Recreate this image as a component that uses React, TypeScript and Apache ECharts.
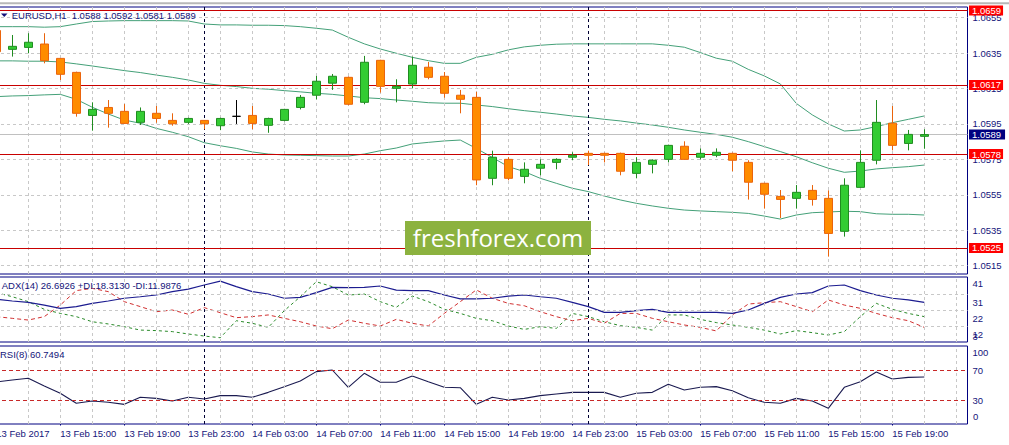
import React, { useEffect, useRef } from "react";
import * as echarts from "echarts";

const SYMBOL = "EURUSD,H1";

const OPEN = [
  1.06477, 1.06371, 1.06382, 1.06401, 1.0632, 1.06241, 1.05998, 1.06043, 1.06021, 1.05959,
  1.0601, 1.0597, 1.05959, 1.0597, 1.0594, 1.05993, 1.05998, 1.05942, 1.0597, 1.06043,
  1.06112, 1.0618, 1.06213, 1.06072, 1.06309, 1.06151, 1.06175, 1.0627, 1.06219, 1.06112,
  1.061, 1.05643, 1.0575, 1.05654, 1.057, 1.05733, 1.05762, 1.05784, 1.05784, 1.05784,
  1.05671, 1.05722, 1.0575, 1.05824, 1.05762, 1.05773, 1.05784, 1.05733, 1.05615, 1.05541,
  1.0553, 1.05575, 1.0553, 1.05344, 1.05592, 1.05745, 1.05954, 1.0584, 1.0588,
];
const HIGH = [
  1.06495, 1.06452, 1.06462, 1.06462, 1.06322, 1.06245, 1.06072, 1.06085, 1.06062, 1.06043,
  1.06051, 1.0601, 1.05985, 1.05972, 1.05985, 1.06085, 1.06051, 1.05985, 1.06035, 1.06113,
  1.06221, 1.06232, 1.06218, 1.06334, 1.06312, 1.06202, 1.0633, 1.063, 1.06243, 1.06142,
  1.06131, 1.05799, 1.05762, 1.05733, 1.0575, 1.05756, 1.0579, 1.05799, 1.05788, 1.05788,
  1.05762, 1.0575, 1.05833, 1.05852, 1.05812, 1.05812, 1.05788, 1.05745, 1.05618, 1.05577,
  1.05605, 1.05605, 1.05575, 1.05643, 1.05801, 1.06085, 1.06051, 1.05916, 1.0592,
];
const LOW = [
  1.06345, 1.0633, 1.06349, 1.06292, 1.06198, 1.05991, 1.05912, 1.05929, 1.0595, 1.05944,
  1.05957, 1.0594, 1.0595, 1.0592, 1.05915, 1.0595, 1.0592, 1.059, 1.05965, 1.06032,
  1.06089, 1.06142, 1.06055, 1.06061, 1.06127, 1.06072, 1.06151, 1.06202, 1.06098, 1.0601,
  1.05604, 1.05604, 1.05632, 1.05615, 1.0566, 1.05694, 1.05745, 1.05718, 1.05733, 1.0566,
  1.05643, 1.05671, 1.05733, 1.05747, 1.0575, 1.05762, 1.05683, 1.05523, 1.05472, 1.05419,
  1.05472, 1.05489, 1.05201, 1.05314, 1.0559, 1.05722, 1.05801, 1.05801, 1.0581,
];
const CLOSE = [
  1.06358, 1.06388, 1.06411, 1.06307, 1.0623, 1.0601, 1.06032, 1.0601, 1.05953, 1.06021,
  1.05981, 1.05951, 1.05981, 1.05951, 1.05981, 1.05993, 1.05953, 1.05981, 1.06032, 1.061,
  1.06191, 1.06219, 1.06061, 1.06298, 1.06162, 1.06162, 1.06281, 1.06213, 1.06123, 1.06089,
  1.05634, 1.05762, 1.05643, 1.05694, 1.05722, 1.0575, 1.05773, 1.05773, 1.05773, 1.05683,
  1.05733, 1.05745, 1.05829, 1.0575, 1.05784, 1.0579, 1.05745, 1.05621, 1.05553, 1.05524,
  1.05564, 1.05524, 1.05332, 1.05604, 1.05733, 1.05959, 1.05829, 1.05891, 1.0589,
];

const BB_UPPER = [
  1.06499, 1.06499, 1.06499, 1.06496, 1.06499, 1.06514, 1.06528, 1.06531, 1.06533, 1.06533,
  1.06533, 1.06533, 1.06531, 1.06514, 1.06509, 1.06509, 1.06507, 1.06507, 1.06505, 1.06499,
  1.0649, 1.0648, 1.06439, 1.06402, 1.06373, 1.06349, 1.06326, 1.06307, 1.06292, 1.06292,
  1.06326, 1.06343, 1.06368, 1.06385, 1.06394, 1.064, 1.06402, 1.06402, 1.06402, 1.06402,
  1.06402, 1.06402, 1.06394, 1.06383, 1.06353, 1.06321, 1.06304, 1.06258, 1.06221, 1.06176,
  1.06066, 1.06001, 1.0595, 1.0591, 1.05916, 1.05935, 1.05957, 1.05976, 1.05995,
];
const BB_MIDDLE = [
  1.06306, 1.06306, 1.06304, 1.06304, 1.063, 1.06289, 1.06277, 1.06264, 1.06251, 1.0624,
  1.06226, 1.06213, 1.06198, 1.06179, 1.06168, 1.06161, 1.06151, 1.06146, 1.06138, 1.06131,
  1.06123, 1.06117, 1.06108, 1.06098, 1.06093, 1.06085, 1.06078, 1.0607, 1.06067, 1.06067,
  1.06057, 1.06048, 1.06036, 1.06025, 1.06016, 1.06006, 1.05995, 1.05987, 1.05976, 1.05967,
  1.05955, 1.05944, 1.05931, 1.05916, 1.05903, 1.05891, 1.05875, 1.0585, 1.05822, 1.05794,
  1.05765, 1.05731, 1.057, 1.05677, 1.05684, 1.05696, 1.05703, 1.05709, 1.05718,
];
const BB_LOWER = [
  1.06104, 1.06108, 1.0611, 1.06114, 1.06117, 1.06089, 1.06044, 1.06006, 1.05972, 1.05954,
  1.05925, 1.05903, 1.05878, 1.05844, 1.05827, 1.05812, 1.05792, 1.0578, 1.05775, 1.05773,
  1.05771, 1.05769, 1.05769, 1.0578, 1.05799, 1.05814, 1.05837, 1.05846, 1.05854, 1.05859,
  1.05812, 1.05761, 1.05709, 1.05681, 1.05643, 1.05615, 1.05587, 1.05568, 1.05543, 1.05521,
  1.05502, 1.05487, 1.05474, 1.05464, 1.05459, 1.05455, 1.05451, 1.05445, 1.0543, 1.05413,
  1.05436, 1.05449, 1.05453, 1.05457, 1.05455, 1.05443, 1.0544, 1.0544, 1.05436,
];

const ADX = [
  28.5, 27.5, 26.7, 25.1, 23.2, 24.2, 26.1, 27.5, 29.1, 30.0,
  31.0, 33.0, 34.5, 36.9, 39.2, 35.9, 33.0, 31.6, 29.1, 29.6,
  32.4, 35.5, 35.3, 35.5, 36.3, 33.9, 33.6, 33.6, 31.0, 28.7,
  28.7, 29.1, 30.4, 31.0, 30.0, 29.1, 26.7, 24.2, 20.8, 20.8,
  21.8, 22.6, 20.8, 20.8, 20.8, 20.8, 20.2, 22.2, 26.1, 29.6,
  31.6, 32.4, 36.3, 36.9, 33.6, 31.0, 29.1, 28.1, 26.6926,
];
const PLUS_DI = [
  32.4, 30.0, 27.1, 22.6, 20.2, 18.3, 15.3, 14.0, 12.4, 10.4,
  10.1, 9.5, 8.1, 6.9, 5.9, 15.9, 14.4, 12.0, 21.8, 30.0,
  38.8, 35.9, 31.0, 31.6, 27.1, 23.8, 30.4, 27.1, 22.6, 20.2,
  17.3, 15.9, 12.8, 10.8, 12.4, 11.4, 20.2, 18.3, 15.3, 13.0,
  12.0, 10.4, 19.3, 19.3, 16.7, 14.8, 13.4, 12.0, 10.4, 8.1,
  10.1, 8.9, 7.5, 9.5, 18.3, 26.1, 22.6, 20.2, 18.313,
];
const MINUS_DI = [
  18.3, 17.3, 16.3, 18.3, 25.1, 33.6, 34.9, 33.0, 27.1, 24.2,
  21.2, 22.2, 19.7, 23.6, 20.6, 17.7, 18.3, 19.3, 17.3, 15.3,
  12.8, 11.2, 16.3, 14.4, 12.8, 16.7, 14.4, 12.8, 20.2, 27.1,
  34.0, 29.1, 26.1, 24.7, 21.2, 18.3, 15.9, 17.3, 14.4, 20.2,
  20.2, 17.3, 15.3, 13.4, 12.0, 9.9, 19.3, 25.7, 26.5, 27.1,
  24.2, 21.2, 28.1, 25.1, 23.2, 20.2, 17.7, 15.9, 11.9876,
];
const RSI = [
  54.0, 56.7, 58.9, 48.7, 38.9, 25.6, 28.7, 26.9, 24.2, 33.6,
  32.2, 28.7, 33.6, 31.3, 35.8, 35.8, 33.6, 40.2, 47.8, 55.3,
  67.8, 70.0, 46.9, 65.6, 53.6, 53.6, 62.0, 54.4, 46.9, 46.4,
  24.2, 33.6, 30.0, 32.2, 35.8, 38.0, 40.2, 40.2, 40.2, 33.6,
  38.9, 40.2, 50.9, 43.3, 46.9, 47.8, 42.4, 33.1, 26.9, 25.6,
  32.2, 28.7, 18.9, 46.9, 54.4, 67.3, 58.0, 60.2, 60.7494,
];

const X_TICK_BARS = [0, 4, 8, 12, 16, 20, 24, 28, 32, 36, 40, 44, 48, 52, 56];
const X_TICK_LABELS = [
  "13 Feb 2017", "13 Feb 15:00", "13 Feb 19:00", "13 Feb 23:00", "14 Feb 03:00",
  "14 Feb 07:00", "14 Feb 11:00", "14 Feb 15:00", "14 Feb 19:00", "14 Feb 23:00",
  "15 Feb 03:00", "15 Feb 07:00", "15 Feb 11:00", "15 Feb 15:00", "15 Feb 19:00",
];
const DAY_BREAK_BARS = [13, 37];
const PRICE_TICKS = [1.0515, 1.0535, 1.0555, 1.0575, 1.0595, 1.0615, 1.0635, 1.0655];
const LEVELS = [1.0659, 1.0617, 1.0578, 1.0525];
// ADX scale: bottom edge 3.4, grid steps of 9.4
const ADX_MIN_LABEL = "3";
const ADX_TICKS = [12.8, 22.2, 31.6, 41.0];
const ADX_TICK_LABELS = ["12", "22", "31", "41"];
const RSI_LEVELS = [30, 70];
const RSI_TICKS = [30, 70, 100];
const RSI_MIN_LABEL = "0";

const FONT = "'Liberation Sans', Arial, sans-serif";
const NAVY = "#000080";
const TEXT = "#14147a";
const GRIDC = "#c8c8c8";
const X_MIN = -0.08;
const X_MAX = 60.7;
const G_LEFT = -5;
const G_RIGHT = 41.5;

function buildOption() {
  const last = OPEN.length - 1;
  const pts = (arr: number[]) => arr.map((v, i) => [i, v]);
  const candles = OPEN.map((o, i) => [i, o, CLOSE[i], LOW[i], HIGH[i]]);

  const vGrid: any[] = [];
  for (let i = 2; i <= 60; i += 2) vGrid.push({ xAxis: i });
  const dayLines = DAY_BREAK_BARS.map((b) => ({
    xAxis: b,
    lineStyle: { color: "#000033", type: [3, 3], width: 1 },
  }));
  const gridLineStyle = { color: GRIDC, type: [3, 3], width: 1 };

  const helper = (xi: number, data: number[], lines: any[], z: number) => ({
    type: "line",
    xAxisIndex: xi,
    yAxisIndex: xi,
    data: pts(data),
    symbol: "none",
    silent: true,
    z,
    lineStyle: { opacity: 0 },
    markLine: {
      symbol: ["none", "none"],
      silent: true,
      animation: false,
      precision: 6,
      label: { show: false },
      lineStyle: gridLineStyle,
      emphasis: { disabled: true },
      data: lines,
    },
  });

  const xAxisOf = (gi: number, show: boolean) => ({
    type: "value",
    gridIndex: gi,
    min: X_MIN,
    max: X_MAX,
    axisLine: { show: false },
    splitLine: { show: false },
    axisTick: show
      ? { show: true, customValues: X_TICK_BARS, length: 3, lineStyle: { color: NAVY } }
      : { show: false },
    axisLabel: show
      ? {
          show: true,
          customValues: X_TICK_BARS,
          showMinLabel: true,
          showMaxLabel: true,
          formatter: (v: number) => {
            const k = X_TICK_BARS.indexOf(Math.round(v));
            return k >= 0 ? X_TICK_LABELS[k] : "";
          },
          align: "left",
          margin: 4,
          color: TEXT,
          fontSize: 9.5,
          fontFamily: FONT,
        }
      : { show: false },
  });

  const richBase = { color: TEXT, fontSize: 9.5, fontFamily: FONT };

  const levelLines = LEVELS.map((p) => ({
    yAxis: p,
    lineStyle: { color: "#c80000", type: "solid", width: 1 },
    label: {
      show: true,
      position: "end",
      distance: 1.5,
      formatter: p.toFixed(4),
      backgroundColor: "#ff0000",
      color: "#ffffff",
      padding: [1, 2, 0, 3],
      fontSize: 9.5,
      lineHeight: 9,
      fontFamily: FONT,
    },
  }));
  const bidLine = {
    yAxis: CLOSE[last],
    lineStyle: { color: "#c0c0c0", type: "solid", width: 1 },
    label: {
      show: true,
      position: "end",
      distance: 1.5,
      formatter: CLOSE[last].toFixed(4),
      backgroundColor: "#000080",
      color: "#ffffff",
      padding: [1, 4, 0, 3],
      fontSize: 9.5,
      lineHeight: 9,
      fontFamily: FONT,
    },
  };

  const gridBase = {
    left: G_LEFT,
    right: G_RIGHT,
    show: true,
    borderColor: NAVY,
    borderWidth: 1,
    containLabel: false,
    outerBoundsMode: "none",
  };

  const axisText = (txt: string, x: number, y: number, zl = 0) => ({
    type: "text",
    silent: true,
    z: 100,
    zlevel: zl,
    x,
    y,
    style: { text: txt, fill: TEXT, fontSize: 9.5, fontFamily: FONT, verticalAlign: "middle" },
  });

  return {
    animation: false,
    backgroundColor: "#ffffff",
    grid: [
      { ...gridBase, top: 7, height: 267 },
      { ...gridBase, top: 277, height: 65 },
      { ...gridBase, top: 346, height: 78 },
    ],
    xAxis: [xAxisOf(0, false), xAxisOf(1, false), xAxisOf(2, true)],
    yAxis: [
      {
        type: "value",
        gridIndex: 0,
        position: "right",
        min: 1.05103,
        max: 1.0661,
        axisLine: { show: false },
        splitLine: { show: false },
        axisTick: { show: true, customValues: PRICE_TICKS, length: 3, lineStyle: { color: NAVY } },
        axisLabel: {
          customValues: PRICE_TICKS,
          showMinLabel: true,
          showMaxLabel: true,
          formatter: (v: number) => v.toFixed(4),
          margin: 5,
          color: TEXT,
          fontSize: 9.5,
          fontFamily: FONT,
        },
      },
      {
        type: "value",
        gridIndex: 1,
        position: "right",
        min: 3.4,
        max: 41.59,
        axisLine: { show: false },
        splitLine: { show: false },
        axisTick: { show: true, customValues: ADX_TICKS, length: 3, lineStyle: { color: NAVY } },
        axisLabel: {
          customValues: ADX_TICKS,
          showMinLabel: true,
          showMaxLabel: true,
          margin: 5,
          color: TEXT,
          fontSize: 9.5,
          fontFamily: FONT,
          formatter: (v: number) => {
            let k = -1;
            ADX_TICKS.forEach((t, j) => {
              if (Math.abs(t - v) < 0.05) k = j;
            });
            if (k < 0) return "";
            const s = k === ADX_TICKS.length - 1 ? "hi" : "mid";
            return `{${s}|${ADX_TICK_LABELS[k]}}`;
          },
          rich: {
            hi: { ...richBase, padding: [10, 0, 0, 0] },
            mid: { ...richBase, padding: [16, 0, 0, 0] },
          },
        },
      },
      {
        type: "value",
        gridIndex: 2,
        position: "right",
        min: -2,
        max: 102,
        axisLine: { show: false },
        splitLine: { show: false },
        axisTick: { show: true, customValues: RSI_LEVELS, length: 3, lineStyle: { color: NAVY } },
        axisLabel: {
          customValues: RSI_TICKS,
          showMinLabel: true,
          showMaxLabel: true,
          margin: 5,
          color: TEXT,
          fontSize: 9.5,
          fontFamily: FONT,
          formatter: (v: number) => {
            const r = Math.round(v);
            if (r === 100) return `{hi|${r}}`;
            return `{mid|${r}}`;
          },
          rich: {
            hi: { ...richBase, padding: [10, 0, 0, 0] },
            mid: { ...richBase },
          },
        },
      },
    ],
    series: [
      helper(
        0,
        BB_MIDDLE,
        [...vGrid, ...PRICE_TICKS.map((p) => ({ yAxis: p })), ...dayLines],
        1
      ),
      {
        type: "line",
        xAxisIndex: 0,
        yAxisIndex: 0,
        data: pts(BB_UPPER),
        symbol: "none",
        silent: true,
        z: 2,
        lineStyle: { color: "#44a078", width: 1 },
      },
      {
        type: "line",
        xAxisIndex: 0,
        yAxisIndex: 0,
        data: pts(BB_MIDDLE),
        symbol: "none",
        silent: true,
        z: 2,
        lineStyle: { color: "#44a078", width: 1 },
      },
      {
        type: "line",
        xAxisIndex: 0,
        yAxisIndex: 0,
        data: pts(BB_LOWER),
        symbol: "none",
        silent: true,
        z: 2,
        lineStyle: { color: "#44a078", width: 1 },
      },
      helper(0, BB_MIDDLE, [...levelLines, bidLine], 3),
      {
        type: "candlestick",
        xAxisIndex: 0,
        yAxisIndex: 0,
        data: candles,
        barWidth: 9,
        silent: true,
        z: 5,
        itemStyle: {
          color: "#33cc33",
          color0: "#ff8c00",
          borderColor: "#208c20",
          borderColor0: "#ea640c",
          borderColorDoji: "#000000",
          borderWidth: 1,
        },
      },
      helper(1, ADX, [...vGrid, ...ADX_TICKS.slice(0, 3).map((v) => ({ yAxis: v })), ...dayLines], 1),
      {
        type: "line",
        xAxisIndex: 1,
        yAxisIndex: 1,
        data: pts(PLUS_DI),
        symbol: "none",
        silent: true,
        z: 2,
        lineStyle: { color: "#2a8a2a", width: 1, type: [3, 3] },
      },
      {
        type: "line",
        xAxisIndex: 1,
        yAxisIndex: 1,
        data: pts(MINUS_DI),
        symbol: "none",
        silent: true,
        z: 2,
        lineStyle: { color: "#d03030", width: 1, type: [4, 3] },
      },
      {
        type: "line",
        xAxisIndex: 1,
        yAxisIndex: 1,
        data: pts(ADX),
        symbol: "none",
        silent: true,
        z: 3,
        lineStyle: { color: "#1c1c90", width: 1.2 },
      },
      helper(
        2,
        RSI,
        [
          ...vGrid,
          ...dayLines,
          ...RSI_LEVELS.map((v) => ({ yAxis: v, lineStyle: { color: "#c82828", type: [4, 3], width: 1 } })),
        ],
        1
      ),
      {
        type: "line",
        xAxisIndex: 2,
        yAxisIndex: 2,
        data: pts(RSI),
        symbol: "none",
        silent: true,
        z: 3,
        lineStyle: { color: "#1a1a50", width: 1.1 },
      },
    ],
    graphic: [
      { type: "line", silent: true, z: 10, shape: { x1: 0, y1: 3.3, x2: 1009, y2: 3.3 }, style: { stroke: "#b8b8b8", lineWidth: 2 } },
      { type: "polygon", silent: true, z: 10, shape: { points: [[1, 13.5], [7.5, 13.5], [4.25, 17]] }, style: { fill: TEXT } },
      {
        type: "text", silent: true, z: 10, x: 11.7, y: 15.5,
        style: { text: SYMBOL, fill: TEXT, fontSize: 9.5, fontFamily: FONT, verticalAlign: "middle" },
      },
      {
        type: "text", silent: true, z: 10, x: 71.7, y: 15.5,
        style: {
          text: `${OPEN[last].toFixed(4)} ${HIGH[last].toFixed(4)} ${LOW[last].toFixed(4)} ${CLOSE[last].toFixed(4)}`,
          fill: TEXT, fontSize: 9.5, fontFamily: FONT, verticalAlign: "middle",
        },
      },
      {
        type: "text", silent: true, z: 10, x: 1.7, y: 285,
        style: {
          text: `ADX(14) ${ADX[last].toFixed(4)} +DI:${PLUS_DI[last].toFixed(4)} -DI:${MINUS_DI[last].toFixed(4)}`,
          fill: TEXT, fontSize: 9.5, fontFamily: FONT, verticalAlign: "middle",
        },
      },
      {
        type: "text", silent: true, z: 10, x: 0, y: 354.3,
        style: { text: `RSI(8) ${RSI[last].toFixed(4)}`, fill: TEXT, fontSize: 9.5, fontFamily: FONT, verticalAlign: "middle" },
      },
      axisText(ADX_MIN_LABEL, 972.5, 336.8),
      axisText(RSI_MIN_LABEL, 973, 416.5, 2),
      { type: "rect", silent: true, z: 20, shape: { x: 405, y: 221, width: 186, height: 34 }, style: { fill: "#8cb23f" } },
      {
        type: "text", silent: true, z: 21, x: 498, y: 237.5,
        style: {
          text: "freshforex.com", fill: "#ffffff", fontSize: 24, fontFamily: "'Open Sans', sans-serif",
          align: "center", verticalAlign: "middle",
        },
      },
    ],
  };
}

export default function App() {
  const ref = useRef<HTMLDivElement>(null);
  useEffect(() => {
    if (!ref.current) return;
    const chart = echarts.init(ref.current, undefined, { renderer: "svg" });
    chart.setOption(buildOption() as any);
    return () => chart.dispose();
  }, []);
  return (
    <div
      ref={ref}
      style={{ position: "fixed", left: 0, top: 0, width: 1009, height: 445, background: "#ffffff" }}
    />
  );
}
